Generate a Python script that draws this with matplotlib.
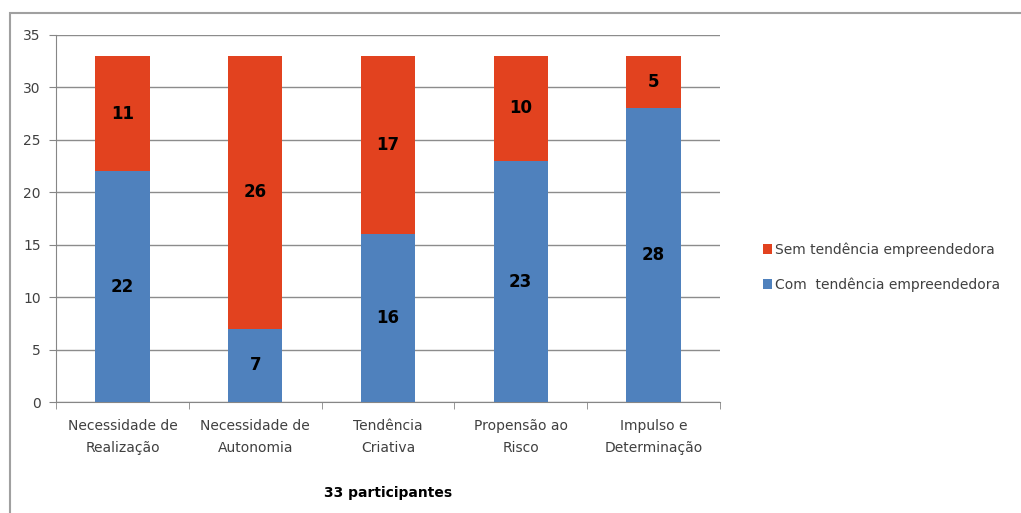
import numpy as np
import matplotlib
matplotlib.use("Agg")
import matplotlib.pyplot as plt
from matplotlib.patches import Rectangle

categorias = ["Necessidade de\nRealização", "Necessidade de\nAutonomia", "Tendência\nCriativa",
              "Propensão ao\nRisco", "Impulso e\nDeterminação"]
com_tendencia = [22, 7, 16, 23, 28]
sem_tendencia = [11, 26, 17, 10, 5]
y_ticks = [0, 5, 10, 15, 20, 25, 30, 35]

azul = "#4F81BD"
vermelho = "#E2421F"

fig = plt.figure(figsize=(10.21, 5.13), dpi=100)
ax = fig.add_axes([0.055, 0.216, 0.65, 0.716])

# moldura cinza do grafico
fig.patches.append(Rectangle((10 / 1021, -0.1), 1.2, 1 - 13 / 513 + 0.1,
                             transform=fig.transFigure, fill=False,
                             edgecolor="#A0A0A0", linewidth=1.5))

x = np.arange(len(categorias))
largura = 0.41
b1 = ax.bar(x, com_tendencia, largura, color=azul, label="Com  tendência empreendedora", zorder=3)
b2 = ax.bar(x, sem_tendencia, largura, bottom=com_tendencia, color=vermelho,
            label="Sem tendência empreendedora", zorder=3)

for i in range(len(x)):
    ax.text(x[i], com_tendencia[i] / 2, str(com_tendencia[i]), ha="center", va="center",
            fontsize=12, fontweight="bold", color="black", zorder=4)
    ax.text(x[i], com_tendencia[i] + sem_tendencia[i] / 2, str(sem_tendencia[i]), ha="center",
            va="center", fontsize=12, fontweight="bold", color="black", zorder=4)

ax.set_xlim(-0.5, len(x) - 0.5)
ax.set_ylim(0, 35)
ax.set_yticks(y_ticks)
ax.yaxis.grid(True, color="#8C8C8C", linewidth=1, zorder=0)
ax.set_axisbelow(True)

ax.set_xticks(x)
ax.set_xticklabels(categorias, fontsize=10, color="#404040", linespacing=1.75)
ax.tick_params(axis="x", length=0, pad=12)
ax.set_xticks(np.arange(len(x) + 1) - 0.5, minor=True)
ax.tick_params(axis="x", which="minor", length=5, color="#868686")
ax.tick_params(axis="y", length=5, color="#868686", labelsize=10, labelcolor="#404040", pad=6)

for lado in ["top", "right"]:
    ax.spines[lado].set_visible(False)
ax.spines["left"].set_color("#868686")
ax.spines["bottom"].set_color("#868686")

ax.set_xlabel("33 participantes", fontsize=10, fontweight="bold", color="black", labelpad=22)

handles = [b2, b1]
ax.legend(handles, [h.get_label() for h in handles], loc="center left",
          bbox_to_anchor=(750 / 1021, 1 - 267 / 513), bbox_transform=fig.transFigure,
          frameon=False, fontsize=10, handlelength=0.7, handleheight=0.7,
          handletextpad=0.2, labelspacing=1.5, labelcolor="#404040")

fig.savefig("out.png", dpi=100)
